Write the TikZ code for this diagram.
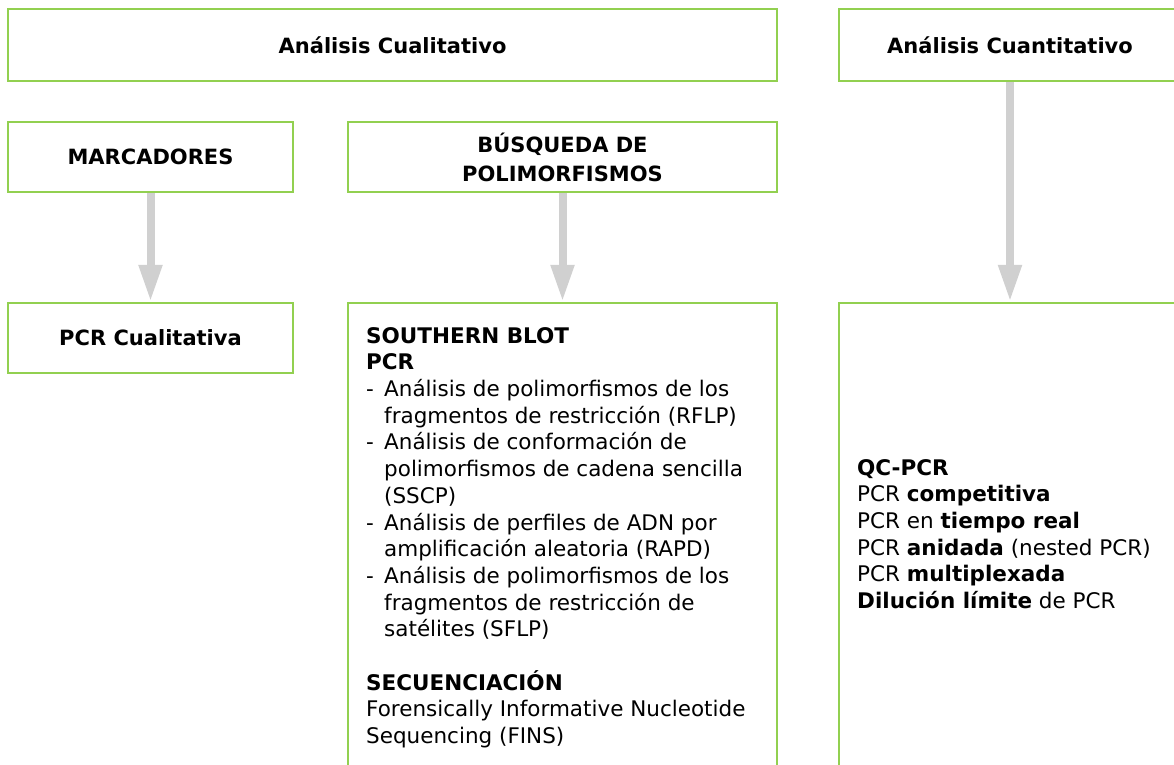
\documentclass[tikz,border=0pt]{standalone}
\usepackage{fontspec}
\setmainfont{DejaVu Sans}
\usetikzlibrary{arrows.meta}
\definecolor{boxgreen}{RGB}{146,208,80}
\definecolor{arrowgray}{RGB}{208,208,208}
\newcommand\hfont{\fontsize{21}{29}\selectfont\bfseries}
\newcommand\bodyfont{\fontsize{21.5}{26.7}\selectfont}
\newcommand\itm{\makebox[18pt][l]{-}}
\newcommand\ind{\hspace*{18pt}}
\begin{document}
\begin{tikzpicture}[x=1pt,y=-1pt,
  box/.style={draw=boxgreen,line width=2.5pt,fill=white,inner sep=0pt,align=center,font=\hfont},
  txt/.style={inner sep=0pt,align=left,anchor=north west,font=\bodyfont},
  arr/.style={draw=arrowgray,line width=8pt,-{Triangle[width=22pt,length=37pt]}}]
\useasboundingbox (0,0) rectangle (1174,764);
% top row
\node[box,minimum width=769pt,minimum height=72pt] (cual) at (392.5,45) {Análisis Cualitativo};
\node[box,minimum width=342pt,minimum height=72pt] (cuant) at (1010,45) {Análisis Cuantitativo};
% second row
\node[box,minimum width=285pt,minimum height=70pt] (marc) at (150.5,157) {MARCADORES};
\node[box,minimum width=429pt,minimum height=70pt] (busq) at (562.5,157) {BÚSQUEDA DE\\POLIMORFISMOS};
% third row
\node[box,minimum width=285pt,minimum height=70pt] (pcrq) at (150.5,338) {PCR Cualitativa};
\node[box,minimum width=429pt,minimum height=465pt] (tecn) at (562.5,535.5) {};
\node[box,minimum width=342pt,minimum height=465pt] (qbox) at (1010,535.5) {};
% texts
\node[txt] (tecntxt) at (366,327) {\textbf{SOUTHERN BLOT}\\
\textbf{PCR}\\
\itm Análisis de polimorfismos de los\\
\ind fragmentos de restricción (RFLP)\\
\itm Análisis de conformación de\\
\ind polimorfismos de cadena sencilla\\
\ind (SSCP)\\
\itm Análisis de perfiles de ADN por\\
\ind amplificación aleatoria (RAPD)\\
\itm Análisis de polimorfismos de los\\
\ind fragmentos de restricción de\\
\ind satélites (SFLP)\\
\mbox{}\\
\textbf{SECUENCIACIÓN}\\
Forensically Informative Nucleotide\\
Sequencing (FINS)};
\node[txt] (qtxt) at (857,459) {\textbf{QC-PCR}\\
PCR \textbf{competitiva}\\
PCR en \textbf{tiempo real}\\
PCR \textbf{anidada} (nested PCR)\\
PCR \textbf{multiplexada}\\
\textbf{Dilución límite} de PCR};
% arrows
\draw[arr] (marc.south) -- (pcrq.north);
\draw[arr] (busq.south) -- (tecn.north);
\draw[arr] (cuant.south) -- (qbox.north);
\end{tikzpicture}
\end{document}
